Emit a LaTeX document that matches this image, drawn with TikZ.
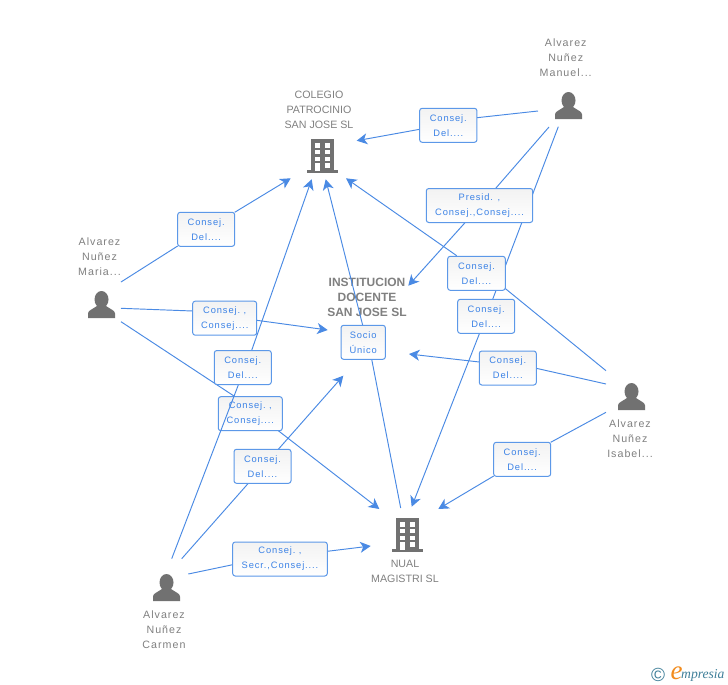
\documentclass[tikz,border=0pt]{standalone}
\usepackage{fontspec}
\setmainfont{Liberation Sans}
\newfontfamily\namefont[LetterSpace=9.5]{Liberation Sans}
\newfontfamily\tagfont[LetterSpace=9.5]{Liberation Sans}
\newfontfamily\logofont{Liberation Serif}
\usetikzlibrary{arrows.meta}
\definecolor{linkblue}{HTML}{4A8AE4}
\definecolor{tagblue}{HTML}{3B82E6}
\definecolor{boxedge}{HTML}{5C98E8}
\definecolor{labelgray}{HTML}{808080}
\definecolor{icongray}{HTML}{717171}
\definecolor{logoteal}{HTML}{3F7F99}
\definecolor{logoorange}{HTML}{F28C1E}
\newcommand{\tr}{\hspace{3.5pt}}
\tikzset{
  link/.style={draw=linkblue,line width=0.95pt},
  arrowlink/.style={link,-{Stealth[length=10.5pt,width=11pt,inset=3pt]}},
  tagbox/.style={draw=boxedge,line width=1pt,rounded corners=2.5pt,top color=black!5,bottom color=white,
    minimum height=34pt,inner sep=0pt,align=center,text=tagblue,font=\tagfont\fontsize{9.33}{15}\selectfont},
  personlabel/.style={align=center,inner sep=0pt,text=labelgray,font=\namefont\fontsize{10.67}{15}\selectfont},
  companylabel/.style={align=center,inner sep=0pt,text=labelgray,font=\fontsize{10.67}{15}\selectfont},
  mainlabel/.style={align=center,inner sep=0pt,text=labelgray,font=\bfseries\fontsize{12}{15}\selectfont},
  personicon/.pic={
    \fill[icongray] (13.5,8.5) ellipse[x radius=7,y radius=8.5];
    \fill[icongray] (0,27) -- (0,22.5) .. controls (0,19.5) and (4,18.5) .. (9,15) -- (18,15)
      .. controls (23,18.5) and (27,19.5) .. (27,22.5) -- (27,27) -- cycle;
  },
  buildingicon/.pic={
    \fill[icongray] (4,0) rectangle (26.5,31.5);
    \fill[icongray] (0,31.3) rectangle (31,34);
    \foreach \r in {4.3,11,17.6,24.2}{
      \fill[white] (8.2,\r) rectangle (12.6,\r+4.3);
      \fill[white] (18.2,\r) rectangle (22.6,\r+4.3);
    }
    \fill[white] (8.2,24.2) rectangle (12.6,31.5);
  },
}
% name, start, joint in, joint out, tip, box centre, box width, text
\newcommand{\relconn}[8]{
  \coordinate (#1-s) at (#2);
  \coordinate (#1-a) at (#3);
  \coordinate (#1-b) at (#4);
  \coordinate (#1-t) at (#5);
  \draw[link] (#1-s) -- (#1-a);
  \draw[arrowlink] (#1-b) -- (#1-t);
  \node[tagbox,minimum width=#7pt] (#1) at (#6) {#8};
}
\begin{document}
\begin{tikzpicture}[x=1pt,y=-1pt]
\useasboundingbox (0,0) rectangle (728,685);
\fill[white] (0,0) rectangle (728,685);

% entities
\node[personlabel] (manuel) at (565.7,58) {Alvarez\\Nuñez\\Manuel...};
\pic at (555,92) {personicon};
\node[personlabel] (maria) at (99.5,256.5) {Alvarez\\Nuñez\\Maria...};
\pic at (88,291) {personicon};
\node[personlabel] (isabel) at (630,439) {Alvarez\\Nuñez\\Isabel...};
\pic at (618,383) {personicon};
\node[personlabel] (carmen) at (164,630) {Alvarez\\Nuñez\\Carmen};
\pic at (153,574) {personicon};
\node[companylabel] (colegio) at (319,110) {COLEGIO\\PATROCINIO\\SAN JOSE SL};
\pic at (307,139) {buildingicon};
\node[companylabel] (nual) at (405,571.5) {NUAL\\MAGISTRI SL};
\pic at (392,518) {buildingicon};
\node[mainlabel] (institucion) at (367,297) {INSTITUCION\\DOCENTE\\SAN JOSE SL};

% connectors with their label boxes, in stacking order
\relconn{mnNual}{558.3,126.7}{486.2,316.3}{486.2,316.3}{411.7,506.7}{486.2,316.3}{57}{Consej.\tr\\Del....}
\relconn{mnInst}{549,127}{495.7,188.3}{465,222.7}{408.3,285.7}{479.5,205.5}{106.4}{Presid. ,\\Consej.,Consej....}
\relconn{mnCole}{538,111}{477,117.7}{419.7,129.3}{356.7,140.7}{448.3,125.3}{57.3}{Consej.\tr\\Del....}
\relconn{isCole}{606,370.7}{505,288.3}{456.7,255.7}{346,178.3}{476.5,273.3}{57.6}{Consej.\tr\\Del....}
\relconn{isInst}{606,384}{536.3,368.3}{479.3,362}{409,354}{507.8,368}{57}{Consej.\tr\\Del....}
\relconn{isNual}{606,412.3}{550.7,442.3}{493.7,476}{438.3,509}{522.2,459.3}{57}{Consej.\tr\\Del....}
\relconn{maCole}{121,282}{177.7,246}{234.7,212.3}{290.7,178.3}{206.2,229.3}{57}{Consej.\tr\\Del....}
\relconn{maInst}{121,308.3}{192.7,311}{256.7,320.3}{327.7,330}{224.7,318.2}{64}{Consej.\ ,\\Consej....}
\relconn{maNual}{121,321.7}{235,396.7}{278.3,430.7}{379.3,509}{250.3,413.7}{64}{Consej.\ ,\\Consej....}
\relconn{caCole}{171.7,558.7}{238.3,385}{251.7,350.3}{311.7,179.3}{242.8,367.5}{57}{Consej.\tr\\Del....}
\relconn{caInst}{181.7,558.7}{248.3,483.3}{278.3,449.3}{343.3,375.7}{262.5,466.3}{57}{Consej.\tr\\Del....}
\relconn{caNual}{188.3,574}{232.7,564.7}{327.3,551.3}{370.7,546}{280,559}{94.6}{Consej.\ ,\\Secr.,Consej....}
\relconn{nuCole}{400.7,508}{371.7,359.3}{362.7,325.3}{325.7,179.3}{363.2,342.3}{44.3}{Socio\\Único}

% logo
\node[inner sep=0pt,text=logoteal,font=\fontsize{19}{19}\selectfont] (logoc) at (658,674.5) {©};
\node[inner sep=0pt,text=logoorange,font=\logofont\itshape\fontsize{27}{27}\selectfont] (logoe) at (676.5,673) {e};
\node[inner sep=0pt,text=logoteal,anchor=base west,font=\logofont\itshape\fontsize{13.6}{14}\selectfont] (logot) at (681,678) {mpresia};
\end{tikzpicture}
\end{document}
